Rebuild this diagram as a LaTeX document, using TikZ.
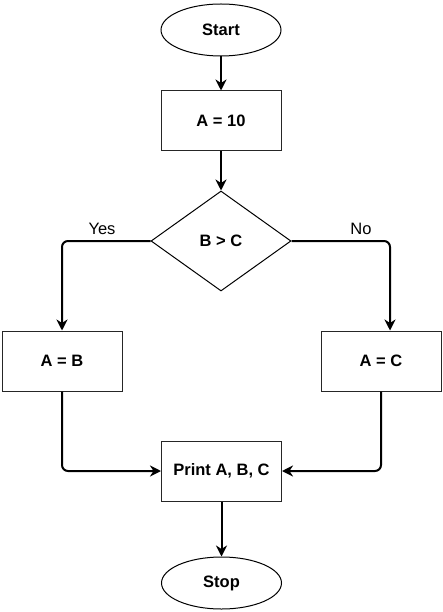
\documentclass[tikz,border=0pt]{standalone}
\usepackage{fontspec}
\setmainfont{Liberation Sans}
\usetikzlibrary{shapes.geometric,arrows.meta}
\begin{document}
\begin{tikzpicture}[x=1pt,y=-1pt,
  every node/.style={font=\fontsize{16.5}{18}\selectfont\bfseries, inner sep=0pt},
  procbox/.style={draw=black!85, line width=1pt, rectangle, minimum width=120pt, minimum height=60pt},
  termbox/.style={draw=black, line width=1pt, ellipse, minimum width=120pt, minimum height=52pt},
  decbox/.style={draw=black, line width=1pt, diamond, minimum width=140pt, minimum height=100pt},
  conn/.style={line width=2pt, rounded corners=6pt, -{Stealth[length=11pt,width=11pt,inset=3.5pt]}},
  lbl/.style={font=\fontsize{16.5}{18}\selectfont}]
\useasboundingbox (0,0) rectangle (442,612);
\node[termbox] (start) at (221,30) {Start};
\node[procbox] (a10) at (221,121) {A = 10};
\node[decbox] (dec) at (221,241) {B > C};
\node[procbox] (ab) at (62,361) {A = B};
\node[procbox] (ac) at (381,361) {A = C};
\node[procbox] (pr) at (221.5,471) {Print A, B, C};
\node[termbox] (stop) at (221.5,583) {Stop};
\coordinate (acin) at ([xshift=9pt]ac.north);
\draw[conn] (start) -- (a10);
\draw[conn] (a10) -- (dec);
\draw[conn] (dec.west) -| (ab.north);
\draw[conn] (dec.east) -| (acin);
\draw[conn] (ab.south) |- (pr.west);
\draw[conn] (ac.south) |- (pr.east);
\draw[conn] (pr) -- (stop);
\node[lbl] (yes) at (102,229) {Yes};
\node[lbl] (no) at (361,229) {No};
\end{tikzpicture}
\end{document}
